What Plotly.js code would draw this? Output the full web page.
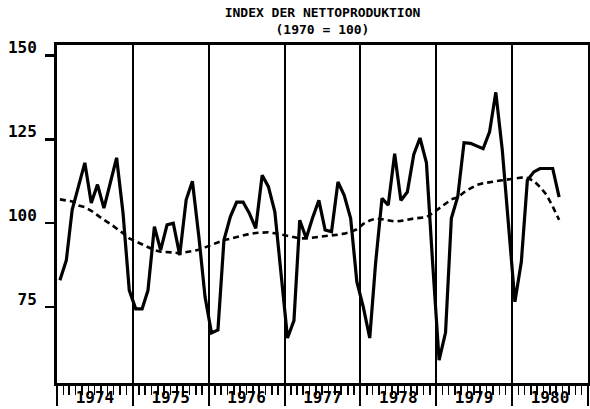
<!DOCTYPE html>
<html>
<head>
<meta charset="utf-8">
<script src="https://cdn.plot.ly/plotly-3.0.1.min.js"></script>
<style>html,body{margin:0;padding:0;background:#fff;}#chart{width:590px;height:409px;}</style>
</head>
<body>
<div id="chart"></div>
<script>
// Monthly index values, Jan 1974 .. Aug 1980
const startYear = 1974;
const index = [
  83, 89, 104, 111, 118, 106, 111.5, 104.5, 112, 119.5, 103, 80,
  74.5, 74.5, 80, 99, 92, 99.5, 100, 90.5, 107, 112.5, 96, 78,
  67.3, 68.2, 95, 102, 106.3, 106.3, 103, 98.5, 114.3, 110.9, 103.4, 85.5,
  65.8, 71, 100.9, 95.5, 101.5, 106.8, 98, 97.5, 112.3, 108.3, 101.5, 82.5,
  75, 65.8, 88, 107.4, 105.4, 120.7, 106.8, 109.3, 120.5, 125.4, 118, 88,
  59.2, 67.4, 101.5, 108, 124, 123.8, 123, 122.2, 127.2, 139, 122, 99,
  76.6, 88.5, 112.8, 115.3, 116.3, 116.3, 116.3, 107.8
];
const trend = [
  107.1, 106.8, 106.5, 105.3, 104.8, 103.7, 102.3, 101, 99.8, 98.5, 97, 95.5,
  94.6, 93.7, 92.7, 92, 91.5, 91.5, 91.3, 91, 91.3, 91.6, 92.1, 92.8,
  93.5, 94.2, 95, 95.4, 95.9, 96.3, 96.8, 97.1, 97.3, 97.3, 97, 96.6,
  96.2, 95.8, 95.5, 95.5, 95.7, 95.8, 96, 96.4, 96.6, 96.9, 97.4, 98.2,
  99.8, 100.8, 101.4, 101.2, 100.8, 100.5, 100.7, 101.1, 101.4, 101.6, 101.8, 103,
  104.4, 106, 107.1, 107.7, 109.2, 110.4, 111.4, 111.9, 112.3, 112.5, 112.8, 113,
  113.3, 113.6, 113.5, 112.6, 110.8, 108.5, 105, 101
];
const yTicks = [75, 100, 125, 150];
const titleText = "INDEX DER NETTOPRODUKTION<br>(1970 = 100)";

// month dates (mid-month)
const months = index.map((_, i) => {
  const y = startYear + Math.floor(i / 12);
  const m = (i % 12) + 1;
  return y + "-" + String(m).padStart(2, "0") + "-15";
});

const FONT = "DejaVu Sans Mono";

const traces = [
  {x: months, y: trend, type: "scatter", mode: "lines",
   line: {color: "#000", width: 2.6, dash: "6px,4px"}, hoverinfo: "skip"},
  {x: months, y: index, type: "scatter", mode: "lines",
   line: {color: "#000", width: 3.2}, hoverinfo: "skip"}
];

const layout = {
  width: 590, height: 409,
  margin: {l: 57, r: 2, t: 45, b: 26},
  paper_bgcolor: "#fff", plot_bgcolor: "#fff",
  showlegend: false,
  title: {text: titleText, x: 0.5, xref: "paper", xanchor: "center",
          y: 1 - 17/409, yref: "container", yanchor: "top",
          font: {family: FONT, size: 13, color: "#000", weight: 700}},
  xaxis: {
    type: "date",
    range: ["1974-01-01", "1981-01-01"],
    tick0: "1974-01-01", dtick: "M12",
    tickformat: "%Y", ticklabelmode: "period",
    ticks: "outside", ticklen: 20, tickwidth: 2, tickcolor: "#000",
    ticklabelstandoff: -22,
    tickfont: {family: FONT, size: 16, color: "#000", weight: 700},
    showgrid: true, gridcolor: "#000", gridwidth: 2,
    showline: true, linecolor: "#000", linewidth: 3, mirror: true,
    zeroline: false,
    minor: {dtick: "M1", tick0: "1974-01-01", ticks: "outside", ticklen: 9,
            tickwidth: 1.6, tickcolor: "#000", showgrid: false}
  },
  yaxis: {
    range: [52.4, 153.1],
    tickvals: yTicks, ticktext: yTicks.map(String),
    ticks: "outside", ticklen: 9, tickwidth: 2.5, tickcolor: "#000",
    ticklabelshift: -8, ticklabelstandoff: 5,
    tickfont: {family: FONT, size: 16, color: "#000", weight: 700},
    showgrid: false, zeroline: false,
    showline: true, linecolor: "#000", linewidth: 3, mirror: true
  }
};

Plotly.newPlot("chart", traces, layout, {staticPlot: true, displayModeBar: false});
</script>
</body>
</html>
